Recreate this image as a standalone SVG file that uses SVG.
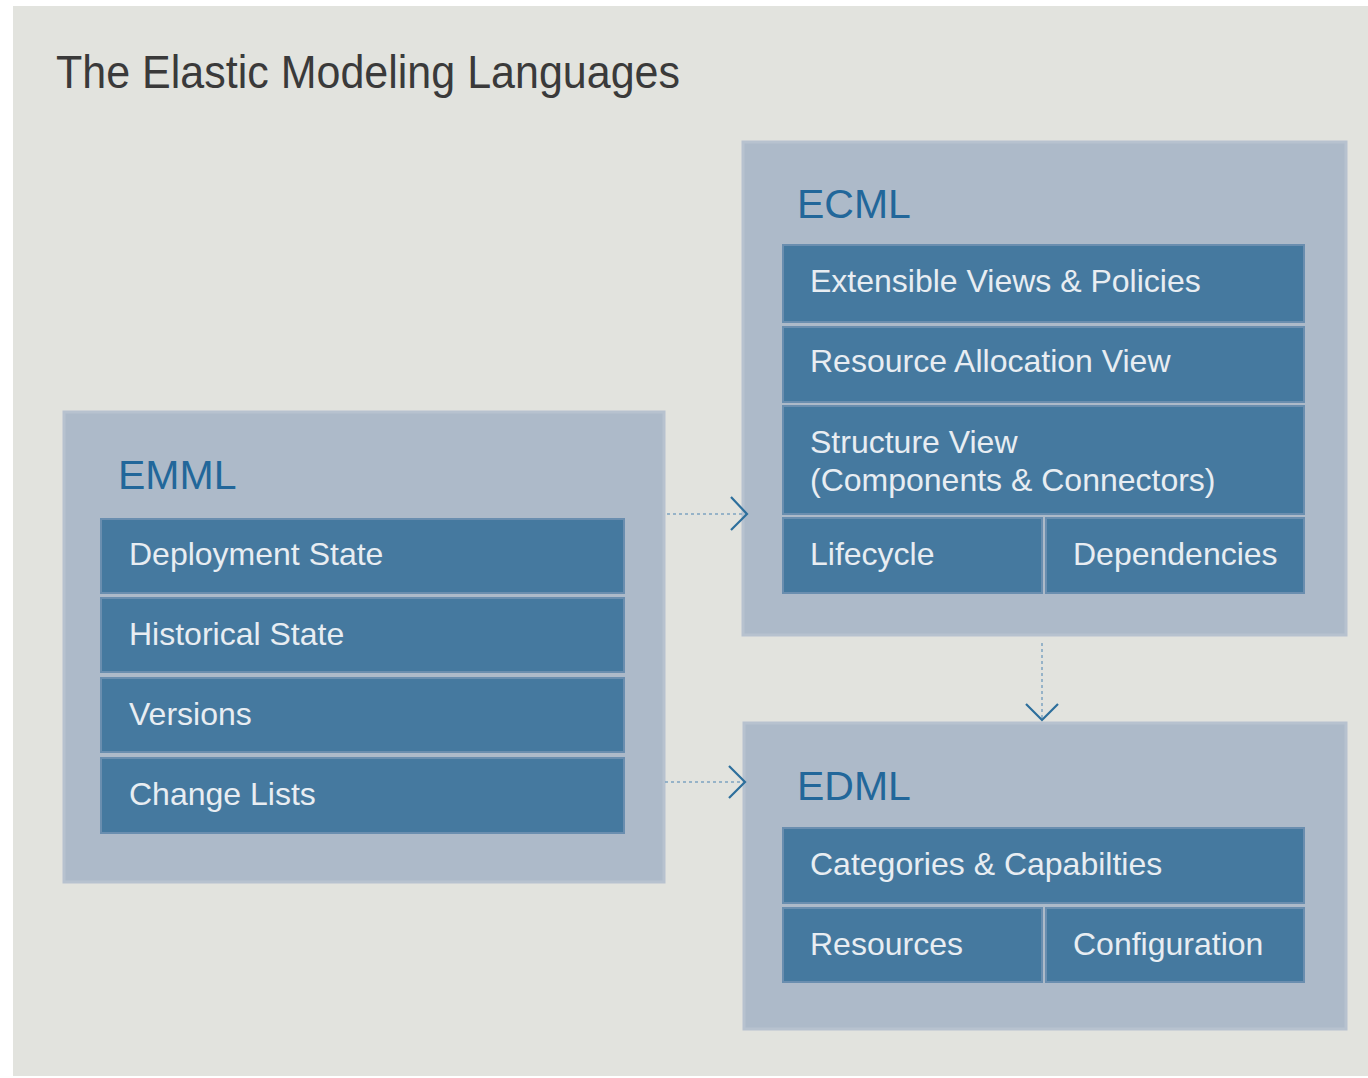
<svg xmlns="http://www.w3.org/2000/svg" width="1368" height="1078" viewBox="0 0 1368 1078">
  <defs>
    <style>
      .panel { fill: #adbac9; stroke: #b7c2cf; stroke-width: 3; }
      .item { fill: #45799f; stroke: #6a8eaf; stroke-width: 2; }
      .lbl { font-family: "Liberation Sans", Arial, sans-serif; font-size: 41px; fill: #22679a; }
      .txt { font-family: "Liberation Sans", Arial, sans-serif; font-size: 32px; fill: #e8edf2; }
      .title { font-family: "Liberation Sans", Arial, sans-serif; font-size: 46px; fill: #3a3a3a; }
      .dot { fill: none; stroke: #7da4c1; stroke-width: 1.5; stroke-dasharray: 3 3; }
      .head { fill: none; stroke: #2d6f9c; stroke-width: 2.2; }
    </style>
  </defs>
  <rect x="0" y="0" width="1368" height="1078" fill="#ffffff"/>
  <rect x="13" y="6" width="1355" height="1070" fill="#e2e3de"/>
  <text class="title" x="56" y="88" textLength="624" lengthAdjust="spacingAndGlyphs">The Elastic Modeling Languages</text>

  <g id="emml">
    <rect class="panel" x="64" y="412" width="600" height="470"/>
    <text class="lbl" x="118" y="489">EMML</text>
    <rect class="item" x="101" y="519" width="523" height="74"/>
    <text class="txt" x="129" y="565">Deployment State</text>
    <rect class="item" x="101" y="598" width="523" height="74"/>
    <text class="txt" x="129" y="645">Historical State</text>
    <rect class="item" x="101" y="678" width="523" height="74"/>
    <text class="txt" x="129" y="725">Versions</text>
    <rect class="item" x="101" y="758" width="523" height="75"/>
    <text class="txt" x="129" y="805">Change Lists</text>
  </g>

  <g id="ecml">
    <rect class="panel" x="743" y="142" width="603" height="493"/>
    <text class="lbl" x="797" y="218">ECML</text>
    <rect class="item" x="783" y="245" width="521" height="77"/>
    <text class="txt" x="810" y="292">Extensible Views &amp; Policies</text>
    <rect class="item" x="783" y="327" width="521" height="75"/>
    <text class="txt" x="810" y="372">Resource Allocation View</text>
    <rect class="item" x="783" y="406" width="521" height="108"/>
    <text class="txt" x="810" y="453">Structure View</text>
    <text class="txt" x="810" y="491">(Components &amp; Connectors)</text>
    <rect class="item" x="783" y="518" width="259" height="75"/>
    <text class="txt" x="810" y="565">Lifecycle</text>
    <rect class="item" x="1046" y="518" width="258" height="75"/>
    <text class="txt" x="1073" y="565">Dependencies</text>
  </g>

  <g id="edml">
    <rect class="panel" x="744" y="723" width="602" height="306"/>
    <text class="lbl" x="797" y="800">EDML</text>
    <rect class="item" x="783" y="828" width="521" height="75"/>
    <text class="txt" x="810" y="875">Categories &amp; Capabilties</text>
    <rect class="item" x="783" y="908" width="259" height="74"/>
    <text class="txt" x="810" y="955">Resources</text>
    <rect class="item" x="1046" y="908" width="258" height="74"/>
    <text class="txt" x="1073" y="955">Configuration</text>
  </g>

  <g id="connectors">
    <line class="dot" x1="667" y1="514" x2="746" y2="514"/>
    <polyline class="head" points="731,497 747,514 731,530"/>
    <line class="dot" x1="665" y1="782" x2="744" y2="782"/>
    <polyline class="head" points="729,766 745,782 729,798"/>
    <line class="dot" x1="1042" y1="643" x2="1042" y2="718"/>
    <polyline class="head" points="1026,704 1042,720 1058,704"/>
  </g>
</svg>
